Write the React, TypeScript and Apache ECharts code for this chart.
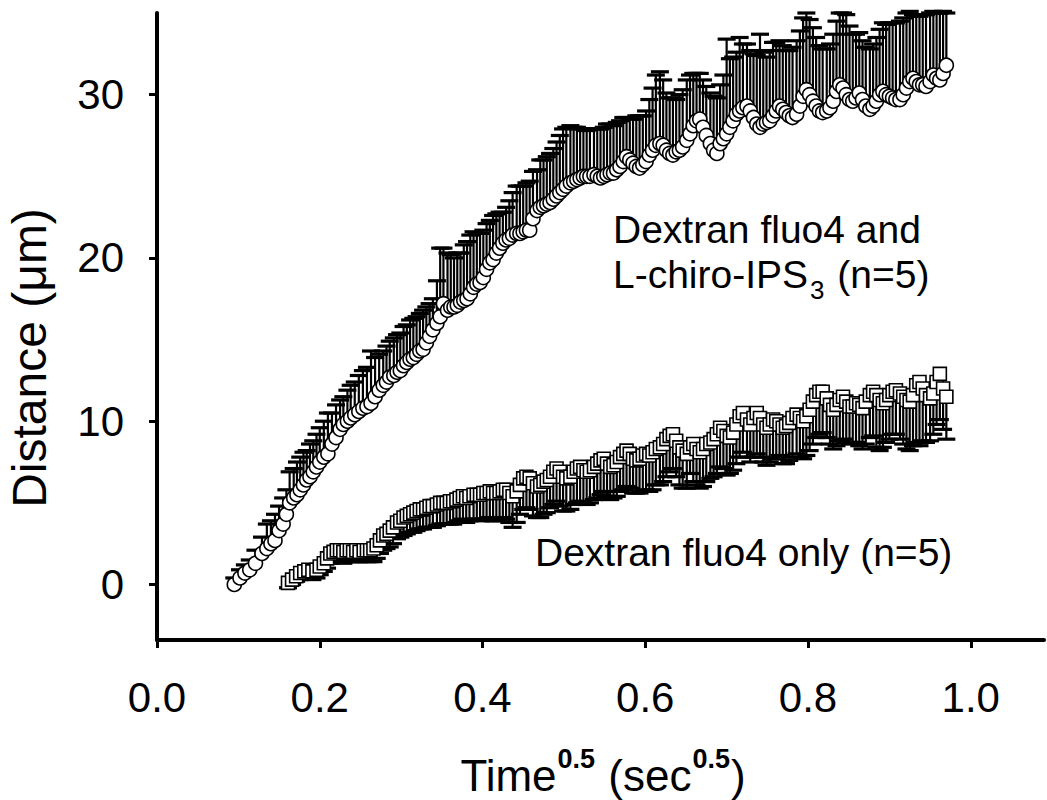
import React, { useEffect, useRef } from "react";
import * as echarts from "echarts";

// Dextran fluo4 and L-chiro-IPS3 (open circles, upward error bars)
const circleX = [
  0.095, 0.102, 0.108, 0.114, 0.121, 0.129, 0.135, 0.140, 0.145, 0.150,
  0.155, 0.159, 0.163, 0.168, 0.172, 0.176, 0.180, 0.184, 0.188, 0.192,
  0.196, 0.200, 0.205, 0.210, 0.215, 0.220, 0.225, 0.229, 0.234, 0.238,
  0.243, 0.248, 0.253, 0.258, 0.263, 0.268, 0.273, 0.278, 0.282, 0.286,
  0.291, 0.295, 0.299, 0.303, 0.307, 0.311, 0.315, 0.319, 0.323, 0.327,
  0.331, 0.335, 0.339, 0.344, 0.348, 0.352, 0.357, 0.361, 0.365, 0.369,
  0.373, 0.377, 0.381, 0.385, 0.389, 0.393, 0.397, 0.401, 0.405, 0.409,
  0.413, 0.417, 0.421, 0.425, 0.429, 0.433, 0.437, 0.442, 0.446, 0.450,
  0.454, 0.458, 0.462, 0.467, 0.471, 0.475, 0.479, 0.483, 0.487, 0.491,
  0.495, 0.499, 0.503, 0.508, 0.512, 0.516, 0.520, 0.524, 0.528, 0.532,
  0.537, 0.541, 0.545, 0.549, 0.553, 0.557, 0.561, 0.565, 0.569, 0.573,
  0.577, 0.581, 0.585, 0.589, 0.593, 0.597, 0.601, 0.605, 0.609, 0.613,
  0.618, 0.622, 0.626, 0.630, 0.634, 0.638, 0.642, 0.646, 0.651, 0.655,
  0.659, 0.663, 0.667, 0.671, 0.675, 0.680, 0.684, 0.688, 0.692, 0.696,
  0.700, 0.704, 0.708, 0.712, 0.716, 0.720, 0.725, 0.729, 0.733, 0.737,
  0.741, 0.745, 0.749, 0.753, 0.757, 0.761, 0.765, 0.769, 0.773, 0.777,
  0.781, 0.786, 0.790, 0.794, 0.798, 0.802, 0.806, 0.810, 0.814, 0.818,
  0.823, 0.827, 0.831, 0.835, 0.839, 0.843, 0.847, 0.851, 0.855, 0.859,
  0.863, 0.867, 0.871, 0.876, 0.880, 0.884, 0.888, 0.892, 0.896, 0.900,
  0.904, 0.908, 0.913, 0.917, 0.921, 0.925, 0.929, 0.933, 0.937, 0.941,
  0.945, 0.950, 0.954, 0.958, 0.962, 0.966, 0.970,
];
const circleY = [
  0.0, 0.4, 0.7, 0.9, 1.3, 1.9, 2.2, 2.5, 2.7, 3.3,
  3.7, 4.3, 5.0, 5.3, 5.5, 5.8, 6.1, 6.4, 6.6, 6.9,
  7.2, 7.5, 7.8, 8.0, 8.6, 9.0, 9.5, 9.8, 10.0, 10.2,
  10.4, 10.6, 10.8, 10.9, 11.1, 11.5, 11.9, 12.2, 12.4, 12.7,
  12.8, 13.0, 13.1, 13.4, 13.6, 13.8, 13.9, 14.1, 14.3, 14.4,
  14.8, 15.2, 15.6, 16.0, 16.4, 17.2, 16.8, 17.0, 17.0, 17.1,
  17.3, 17.4, 17.5, 17.8, 18.2, 18.4, 18.5, 18.8, 19.3, 19.7,
  19.9, 20.3, 20.6, 20.9, 21.1, 21.2, 21.4, 21.5, 21.5, 21.6,
  21.7, 21.7, 22.4, 22.9, 23.1, 23.2, 23.3, 23.4, 23.6, 23.8,
  24.0, 24.2, 24.4, 24.6, 24.7, 24.8, 24.9, 25.0, 25.0, 25.0,
  25.1, 25.0, 24.9, 25.0, 25.1, 25.2, 25.2, 25.4, 25.6, 25.9,
  26.2, 26.0, 25.8, 25.6, 25.5, 25.7, 25.9, 26.3, 26.6, 26.9,
  27.0, 26.9, 26.6, 26.4, 26.3, 26.5, 26.6, 26.8, 27.2, 27.6,
  28.1, 28.4, 28.5, 28.0, 27.5, 27.0, 26.6, 26.4, 27.0, 27.3,
  27.6, 28.0, 28.4, 28.8, 29.0, 29.2, 29.3, 29.0, 28.6, 28.2,
  28.0, 28.2, 28.3, 28.4, 28.7, 29.0, 29.3, 29.1, 28.9, 28.7,
  28.6, 28.8, 29.3, 29.9, 30.3, 30.0, 29.6, 29.3, 29.0, 28.9,
  29.0, 29.2, 29.6, 30.2, 30.6, 30.4, 30.0, 29.7, 29.6, 29.8,
  30.1, 29.7, 29.3, 29.1, 29.3, 29.6, 30.0, 30.2, 30.0, 29.9,
  29.8, 29.7, 29.7, 30.0, 30.4, 30.8, 31.0, 30.8, 30.6, 30.6,
  30.5, 30.8, 31.2, 31.0, 30.9, 31.3, 31.8,
];
const circleErr = [
  0.4, 0.5, 0.5, 0.6, 0.8, 1.0, 1.5, 1.4, 1.6, 1.5,
  1.6, 1.5, 1.9, 1.8, 2.0, 2.0, 2.0, 1.8, 2.0, 1.9,
  2.0, 2.1, 2.2, 2.5, 1.9, 2.0, 1.8, 1.7, 1.9, 2.0,
  2.0, 2.2, 2.3, 2.4, 3.2, 2.4, 2.2, 2.1, 2.2, 2.2,
  2.3, 2.3, 2.3, 2.4, 2.3, 2.4, 2.4, 2.3, 2.3, 2.4,
  2.2, 2.0, 1.9, 2.6, 4.2, 3.4, 3.5, 3.2, 3.0, 3.2,
  3.0, 3.4, 3.5, 3.6, 3.4, 3.1, 3.0, 2.9, 2.8, 2.6,
  2.7, 2.4, 2.2, 1.9, 2.0, 2.3, 2.6, 2.9, 2.9, 2.8,
  2.9, 3.0, 2.9, 2.5, 2.9, 2.8, 2.9, 3.0, 3.1, 3.3,
  3.5, 3.7, 3.6, 3.5, 3.3, 3.2, 3.0, 2.9, 2.8, 2.9,
  2.8, 2.9, 3.0, 3.0, 3.1, 3.0, 2.9, 2.9, 2.8, 2.7,
  2.4, 2.5, 2.7, 3.1, 3.2, 3.0, 3.1, 3.4, 3.8, 4.3,
  4.4, 4.0, 3.5, 3.4, 3.5, 3.2, 3.4, 3.5, 3.7, 3.6,
  3.2, 2.9, 2.8, 2.9, 3.0, 3.1, 3.3, 3.4, 3.6, 3.9,
  5.8, 4.2, 3.9, 3.8, 4.5, 3.9, 3.8, 3.7, 3.9, 4.2,
  5.7, 4.4, 4.0, 4.3, 4.5, 4.2, 4.0, 3.9, 3.8, 4.0,
  4.3, 4.5, 4.6, 4.8, 4.7, 4.6, 4.5, 4.2, 4.0, 3.9,
  3.8, 3.9, 4.1, 4.3, 4.4, 4.6, 4.9, 4.5, 4.1, 3.9,
  3.7, 3.6, 3.6, 3.7, 3.8, 3.9, 4.0, 4.2, 4.3, 4.5,
  4.6, 4.7, 4.8, 4.7, 4.6, 4.3, 3.9, 4.0, 4.2, 4.3,
  4.4, 4.2, 3.9, 4.0, 4.1, 3.8, 3.2,
];

// Dextran fluo4 only (open squares, downward error bars)
const squareX = [
  0.161, 0.166, 0.171, 0.176, 0.181, 0.186, 0.191, 0.196, 0.200, 0.205,
  0.209, 0.213, 0.217, 0.221, 0.225, 0.229, 0.233, 0.237, 0.241, 0.245,
  0.249, 0.254, 0.258, 0.262, 0.266, 0.270, 0.274, 0.278, 0.282, 0.286,
  0.290, 0.295, 0.299, 0.303, 0.307, 0.311, 0.315, 0.319, 0.323, 0.327,
  0.331, 0.335, 0.339, 0.344, 0.348, 0.352, 0.356, 0.360, 0.364, 0.368,
  0.372, 0.376, 0.380, 0.384, 0.389, 0.393, 0.397, 0.401, 0.405, 0.409,
  0.413, 0.417, 0.421, 0.425, 0.429, 0.433, 0.437, 0.442, 0.446, 0.450,
  0.454, 0.458, 0.462, 0.467, 0.471, 0.475, 0.479, 0.483, 0.487, 0.491,
  0.495, 0.499, 0.503, 0.508, 0.512, 0.516, 0.520, 0.524, 0.528, 0.532,
  0.537, 0.541, 0.545, 0.549, 0.553, 0.557, 0.561, 0.565, 0.569, 0.573,
  0.577, 0.581, 0.585, 0.589, 0.593, 0.597, 0.601, 0.605, 0.609, 0.613,
  0.618, 0.622, 0.626, 0.630, 0.634, 0.638, 0.642, 0.646, 0.651, 0.655,
  0.659, 0.663, 0.667, 0.671, 0.675, 0.680, 0.684, 0.688, 0.692, 0.696,
  0.700, 0.704, 0.708, 0.712, 0.716, 0.720, 0.725, 0.729, 0.733, 0.737,
  0.741, 0.745, 0.749, 0.753, 0.757, 0.761, 0.765, 0.769, 0.773, 0.777,
  0.781, 0.786, 0.790, 0.794, 0.798, 0.802, 0.806, 0.810, 0.814, 0.818,
  0.823, 0.827, 0.831, 0.835, 0.839, 0.843, 0.847, 0.851, 0.855, 0.859,
  0.863, 0.867, 0.871, 0.876, 0.880, 0.884, 0.888, 0.892, 0.896, 0.900,
  0.904, 0.908, 0.913, 0.917, 0.921, 0.925, 0.929, 0.933, 0.937, 0.941,
  0.945, 0.950, 0.954, 0.958, 0.962, 0.966, 0.970,
];
const squareY = [
  0.1, 0.3, 0.5, 0.7, 0.8, 0.9, 0.8, 0.9, 1.1, 1.3,
  1.6, 1.9, 2.0, 2.1, 2.1, 2.0, 2.1, 2.1, 2.0, 2.1,
  2.0, 2.1, 2.1, 2.1, 2.2, 2.4, 2.7, 3.0, 3.1, 3.3,
  3.5, 3.8, 3.9, 4.1, 4.2, 4.3, 4.4, 4.5, 4.6, 4.6,
  4.7, 4.8, 4.8, 4.9, 5.0, 5.0, 5.0, 5.1, 5.1, 5.2,
  5.3, 5.4, 5.3, 5.4, 5.5, 5.5, 5.5, 5.6, 5.6, 5.7,
  5.6, 5.6, 5.7, 5.8, 5.8, 5.6, 5.4, 5.7, 6.1, 6.5,
  6.6, 6.5, 6.2, 6.0, 6.1, 6.3, 6.4, 6.6, 6.9, 7.1,
  6.9, 6.6, 6.5, 6.6, 6.9, 7.1, 7.2, 7.0, 6.9, 7.0,
  7.2, 7.4, 7.6, 7.7, 7.4, 7.2, 7.3, 7.5, 7.8, 8.0,
  8.2, 8.0, 7.7, 7.6, 7.7, 7.9, 8.0, 7.9, 8.1, 8.3,
  8.4, 8.6, 8.9, 9.1, 9.2, 8.8, 8.4, 8.2, 8.0, 8.4,
  8.6, 8.3, 8.1, 8.3, 8.6, 8.7, 8.9, 9.2, 9.6, 9.4,
  9.1, 9.0, 9.3, 9.8, 10.3, 10.5, 10.1, 9.8, 10.2, 10.5,
  10.2, 9.8, 9.6, 9.8, 10.1, 10.0, 9.8, 9.6, 9.7, 9.9,
  10.2, 10.4, 10.2, 10.0, 10.3, 10.7, 11.2, 11.6, 11.8, 11.8,
  11.4, 11.0, 10.7, 11.0, 11.3, 11.5, 11.2, 10.9, 10.9, 11.1,
  11.0, 10.8, 11.2, 11.6, 11.8, 11.6, 11.3, 11.1, 11.3, 11.6,
  11.8, 11.9, 11.7, 11.5, 11.3, 11.2, 11.6, 12.2, 12.4, 12.0,
  11.6, 11.4, 11.7, 12.4, 12.9, 12.0, 11.5,
];
const squareErr = [
  0.3, 0.3, 0.3, 0.4, 0.4, 0.4, 0.5, 0.5, 0.5, 0.5,
  0.6, 0.6, 0.6, 0.7, 0.7, 0.7, 0.6, 0.7, 0.6, 0.7,
  0.6, 0.6, 0.7, 0.7, 0.8, 0.8, 0.8, 0.9, 0.9, 1.0,
  1.0, 1.0, 1.0, 1.1, 1.1, 1.1, 1.2, 1.2, 1.2, 1.2,
  1.2, 1.3, 1.3, 1.3, 1.3, 1.3, 1.3, 1.4, 1.4, 1.4,
  1.4, 1.4, 1.5, 1.5, 1.5, 1.5, 1.6, 1.6, 1.6, 1.6,
  1.7, 1.7, 1.7, 1.7, 1.8, 1.8, 1.9, 1.9, 1.8, 1.9,
  1.9, 1.9, 2.0, 1.9, 2.0, 2.0, 2.0, 1.9, 2.0, 2.0,
  2.1, 2.1, 2.0, 2.0, 2.0, 2.1, 2.1, 2.0, 2.0, 2.0,
  2.0, 2.1, 2.1, 2.0, 2.0, 2.0, 2.0, 2.1, 2.1, 2.2,
  2.2, 2.1, 2.1, 2.0, 2.1, 2.2, 2.2, 2.2, 2.3, 2.2,
  2.3, 2.3, 2.3, 2.2, 2.1, 2.2, 2.3, 2.3, 2.1, 1.6,
  2.3, 2.2, 2.2, 2.3, 2.3, 2.2, 2.3, 2.4, 2.4, 2.3,
  2.4, 2.2, 2.3, 2.4, 2.5, 2.4, 2.3, 2.3, 2.4, 2.5,
  2.4, 2.3, 2.3, 2.3, 2.4, 2.3, 1.9, 2.2, 2.3, 2.3,
  2.4, 2.4, 2.4, 2.3, 2.4, 2.5, 2.6, 2.6, 2.6, 2.5,
  2.4, 2.4, 2.4, 2.5, 2.5, 2.6, 2.5, 2.3, 2.2, 2.4,
  2.5, 2.5, 2.6, 2.6, 2.7, 3.2, 3.1, 2.7, 2.6, 2.7,
  2.6, 2.7, 2.8, 2.9, 3.0, 3.0, 3.1, 3.5, 3.9, 3.2,
  2.9, 2.6, 2.5, 2.6, 2.8, 2.5, 2.6,
];

const xTicks = [0, 0.2, 0.4, 0.6, 0.8, 1.0];
const yTicks = [0, 10, 20, 30];

const FONT = "'Liberation Sans', Arial, Helvetica, sans-serif";

export default function App() {
  const ref = useRef<HTMLDivElement>(null);

  useEffect(() => {
    document.body.style.margin = "0";
    const el = ref.current;
    if (!el) return;
    const chart = echarts.init(el, null, { renderer: "svg" });

    const circleData = circleX.map((x, i) => [x, circleY[i], circleErr[i]]);
    const squareData = squareX.map((x, i) => [x, squareY[i], squareErr[i]]);

    const errRender = (dir: number) => (params: any, api: any) => {
      const x = api.value(0);
      const y = api.value(1);
      const e = api.value(2);
      const p0 = api.coord([x, y]);
      const p1 = api.coord([x, y + dir * e]);
      return {
        type: "group",
        children: [
          {
            type: "line",
            shape: { x1: p0[0], y1: p0[1], x2: p1[0], y2: p1[1] },
            style: { stroke: "#000", lineWidth: 2.2 },
          },
          {
            type: "line",
            shape: { x1: p1[0] - 9, y1: p1[1], x2: p1[0] + 9, y2: p1[1] },
            style: { stroke: "#000", lineWidth: 3.2 },
          },
        ],
      };
    };

    chart.setOption({
      animation: false,
      backgroundColor: "#fff",
      grid: { left: 157, right: 3, top: 13, bottom: 160, containLabel: false },
      xAxis: {
        type: "value",
        min: 0,
        max: 1.09,
        axisLine: { onZero: false, lineStyle: { color: "#000", width: 4 } },
        axisTick: {
          show: true,
          customValues: xTicks,
          length: 8,
          lineStyle: { color: "#000", width: 3 },
        },
        axisLabel: {
          customValues: xTicks,
          formatter: (v: number) => v.toFixed(1),
          fontSize: 42,
          fontFamily: FONT,
          color: "#000",
          margin: 36,
        },
        splitLine: { show: false },
      },
      yAxis: {
        type: "value",
        min: -3.4,
        max: 35,
        axisLine: { show: true, onZero: false, lineStyle: { color: "#000", width: 4 } },
        axisTick: {
          show: true,
          customValues: yTicks,
          length: 8,
          lineStyle: { color: "#000", width: 3 },
        },
        axisLabel: {
          customValues: yTicks,
          formatter: (v: number) => String(Math.round(v)),
          fontSize: 42,
          fontFamily: FONT,
          color: "#000",
          margin: 33,
        },
        splitLine: { show: false },
      },
      series: [
        {
          type: "custom",
          name: "circleErr",
          renderItem: errRender(1),
          data: circleData,
          encode: { x: 0, y: 1 },
          z: 2,
        },
        {
          type: "scatter",
          name: "Dextran fluo4 and L-chiro-IPS3",
          data: circleData,
          symbol: "circle",
          symbolSize: 14,
          itemStyle: { color: "#fff", borderColor: "#000", borderWidth: 1.6, opacity: 1 },
          z: 3,
        },
        {
          type: "custom",
          name: "squareErr",
          renderItem: errRender(-1),
          data: squareData,
          encode: { x: 0, y: 1 },
          z: 2,
        },
        {
          type: "scatter",
          name: "Dextran fluo4 only",
          data: squareData,
          symbol: "rect",
          symbolSize: 13,
          itemStyle: { color: "#fff", borderColor: "#000", borderWidth: 1.6, opacity: 1 },
          z: 3,
        },
      ],
      graphic: [
        {
          type: "text",
          x: 613,
          y: 207,
          style: {
            text: "Dextran fluo4 and\nL-chiro-IPS{sub|3} (n=5)",
            font: `39px ${FONT}`,
            fill: "#000",
            lineHeight: 45,
            align: "left",
            verticalAlign: "top",
            rich: {
              sub: { fontSize: 26, fontFamily: FONT, fill: "#000", verticalAlign: "top", lineHeight: 16, padding: [25, 2, 0, 2] },
            },
          },
        },
        {
          type: "text",
          x: 535,
          y: 533,
          style: {
            text: "Dextran fluo4 only (n=5)",
            font: `39px ${FONT}`,
            fill: "#000",
            align: "left",
            verticalAlign: "top",
          },
        },
        {
          type: "text",
          x: 603,
          y: 775,
          style: {
            text: "Time{sup|0.5} (sec{sup|0.5})",
            font: `44px ${FONT}`,
            fill: "#000",
            lineHeight: 60,
            align: "center",
            verticalAlign: "middle",
            rich: {
              sup: { fontSize: 27, fontWeight: "bold", fontFamily: FONT, fill: "#000", verticalAlign: "top", lineHeight: 27, padding: [0, 1, 0, 1] },
            },
          },
        },
        {
          type: "text",
          x: 29,
          y: 358,
          rotation: Math.PI / 2,
          style: {
            text: "Distance (μm)",
            font: `48px ${FONT}`,
            fill: "#000",
            align: "center",
            verticalAlign: "middle",
          },
        },
      ],
    });

    return () => chart.dispose();
  }, []);

  return <div ref={ref} style={{ width: 1047, height: 800 }} />;
}
